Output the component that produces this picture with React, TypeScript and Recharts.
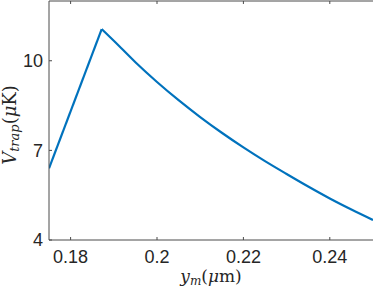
import React from "react";
import { Label, Line, LineChart, ReferenceLine, XAxis, YAxis } from "recharts";

// y_m in micrometres, V_trap in microkelvin
const ym = [0.175, 0.1872, 0.19, 0.195, 0.2, 0.205, 0.21, 0.215, 0.22, 0.225, 0.23, 0.235, 0.24, 0.245, 0.25];
const vtrap = [6.4, 11.06, 10.67, 9.95, 9.29, 8.68, 8.115, 7.59, 7.1, 6.64, 6.21, 5.79, 5.39, 5.02, 4.67];
const peakIndex = 1;

const xTicks = [0.18, 0.2, 0.22, 0.24];
const yTicks = [4, 7, 10];
const yMax = 12;

// rising branch drawn straight, falling branch smooth
const data = ym.map((x, i) => ({
  x,
  rise: i <= peakIndex ? vtrap[i] : null,
  fall: i >= peakIndex ? vtrap[i] : null,
}));

const axisColor = "#4a4a4a";
const textColor = "#262626";
const tickFont = { fontSize: 18, fill: textColor, fontFamily: "Liberation Sans, Arial, sans-serif" };
const mathFont = "DejaVu Serif, Liberation Serif, serif";

const XLabel = () => (
  <text x={211} y={282} textAnchor="middle" fill={textColor} fontFamily={mathFont} fontSize={17}>
    <tspan fontStyle="italic">y</tspan>
    <tspan fontStyle="italic" fontSize={12} dy={3}>m</tspan>
    <tspan dy={-3}>(</tspan>
    <tspan fontStyle="italic">μ</tspan>
    <tspan>m)</tspan>
  </text>
);

const YLabel = () => (
  <text
    x={0}
    y={0}
    transform="translate(16,125) rotate(-90)"
    textAnchor="middle"
    fill={textColor}
    fontFamily={mathFont}
    fontSize={18}
  >
    <tspan fontStyle="italic">V</tspan>
    <tspan fontStyle="italic" fontSize={13} dy={3}>trap</tspan>
    <tspan dy={-3}>(</tspan>
    <tspan fontStyle="italic">μ</tspan>
    <tspan>K)</tspan>
  </text>
);

export default function App() {
  return (
    <div style={{ position: "absolute", left: 0, top: 0, background: "#fff" }}>
      <LineChart width={374} height={289} data={data} margin={{ top: 1, right: 1, left: 0, bottom: 0 }}>
        <XAxis
          dataKey="x"
          type="number"
          domain={[0.175, 0.25]}
          ticks={xTicks}
          allowDataOverflow
          height={49}
          tick={tickFont}
          tickSize={-3}
          tickMargin={13}
          axisLine={{ stroke: axisColor }}
          tickLine={{ stroke: axisColor }}
        >
          <Label content={<XLabel />} />
        </XAxis>
        <YAxis
          type="number"
          domain={[4, yMax]}
          ticks={yTicks}
          allowDataOverflow
          width={49}
          tick={tickFont}
          tickSize={-3}
          tickMargin={9}
          axisLine={{ stroke: axisColor }}
          tickLine={{ stroke: axisColor }}
        >
          <Label content={<YLabel />} />
        </YAxis>
        <YAxis
          yAxisId="right"
          type="number"
          orientation="right"
          domain={[4, yMax]}
          ticks={yTicks}
          width={0}
          tick={false}
          tickSize={-3}
          axisLine={{ stroke: axisColor }}
          tickLine={{ stroke: axisColor }}
        />
        {/* top edge of the box, with its inward ticks */}
        <ReferenceLine y={yMax} stroke={axisColor} ifOverflow="visible" />
        {xTicks.map((t) => (
          <ReferenceLine
            key={t}
            segment={[{ x: t, y: yMax }, { x: t, y: yMax - 0.1 }]}
            stroke={axisColor}
            ifOverflow="visible"
          />
        ))}
        <Line
          dataKey="rise"
          type="linear"
          stroke="#0072BD"
          strokeWidth={2.2}
          dot={false}
          isAnimationActive={false}
        />
        <Line
          dataKey="fall"
          type="monotone"
          stroke="#0072BD"
          strokeWidth={2.2}
          dot={false}
          isAnimationActive={false}
        />
      </LineChart>
    </div>
  );
}
